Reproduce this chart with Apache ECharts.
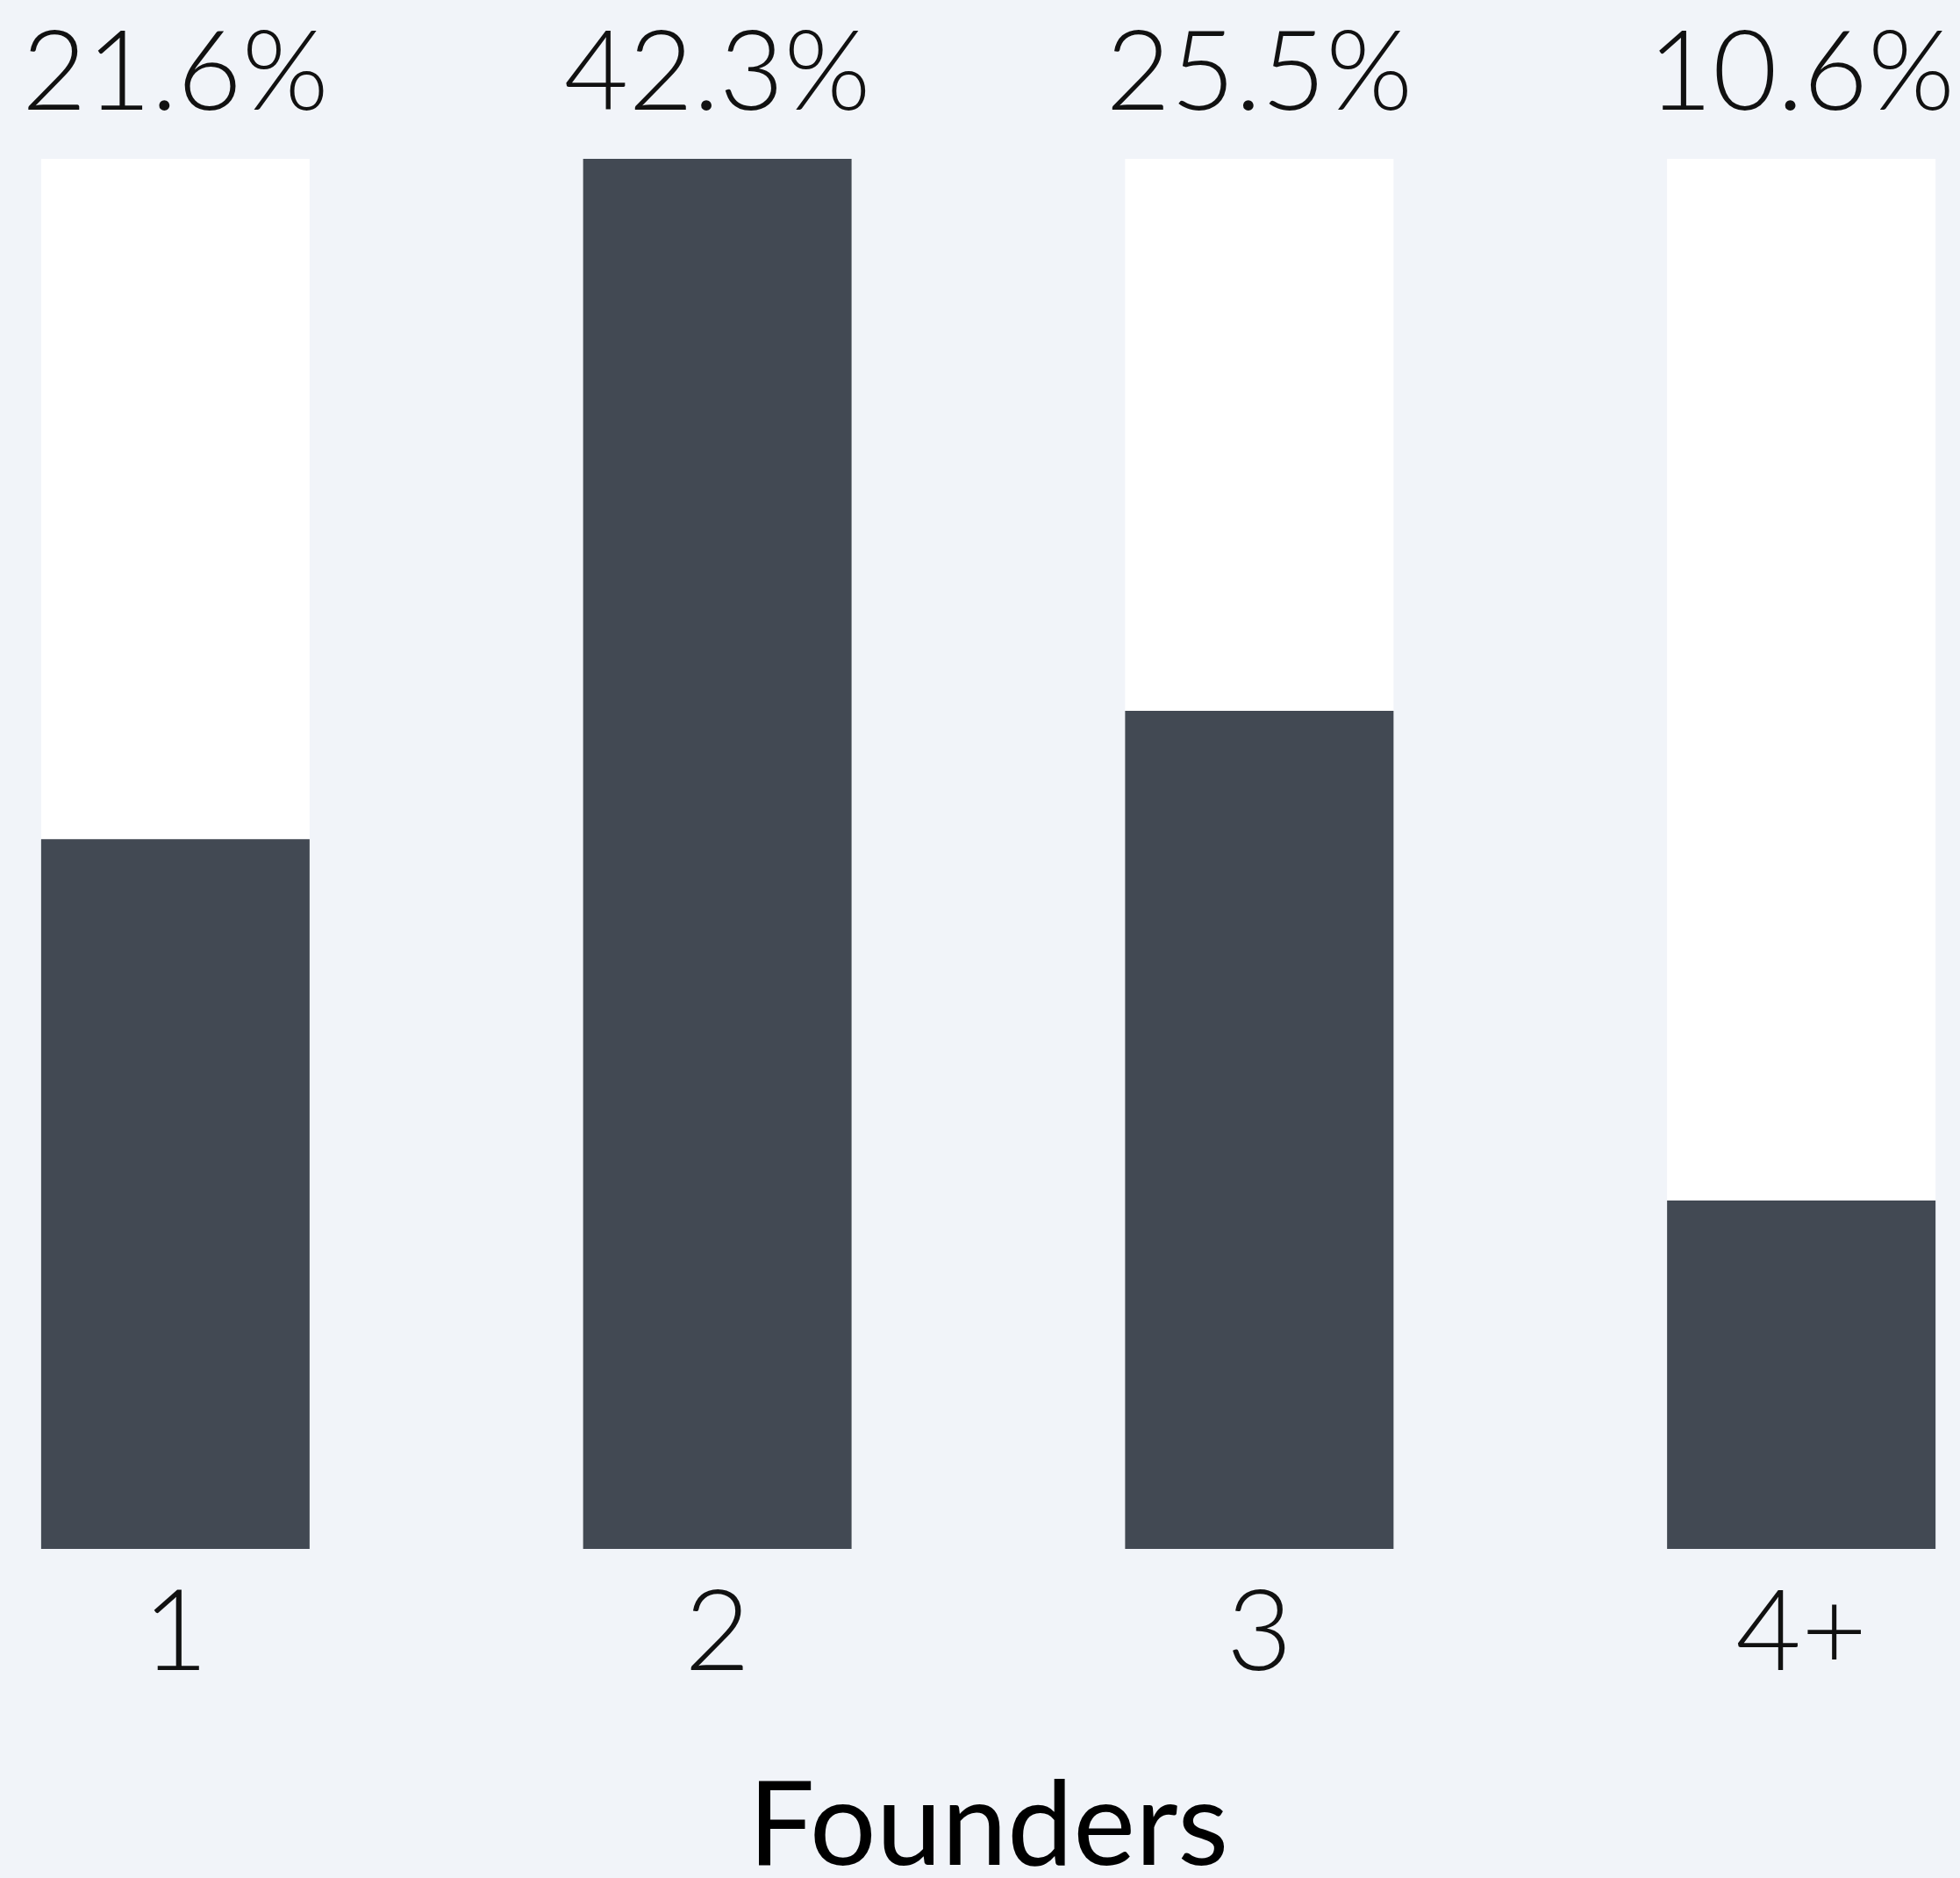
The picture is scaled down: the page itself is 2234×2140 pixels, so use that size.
<!DOCTYPE html>
<html>
<head>
<meta charset="utf-8">
<style>
html,body{margin:0;padding:0;background:#f1f4f9;overflow:hidden;width:2234px;height:2140px;position:relative;}
#c{position:absolute;left:-109px;top:0;width:2471px;height:2140px;}
</style>
<script src="https://cdn.jsdelivr.net/npm/echarts@6/dist/echarts.min.js"></script>
</head>
<body>
<div id="c"></div>
<script>
const categories = ['1', '2', '3', '4+'];
const values = [21.6, 42.3, 25.5, 10.6];
const axisName = 'Founders';

const pctLabels = values.map(v => v.toFixed(1) + '%');
const chart = echarts.init(document.getElementById('c'), null, {renderer: 'canvas'});
chart.setOption({
  backgroundColor: '#f1f4f9',
  animation: false,
  grid: {left: 0, right: 0, top: 181, bottom: 375, containLabel: false, outerBoundsMode: 'none'},
  xAxis: [{
    type: 'category',
    data: categories,
    position: 'bottom',
    axisLine: {show: false},
    axisTick: {show: false},
    axisLabel: {fontFamily: 'Lato', fontWeight: 300, fontSize: 129, color: '#111', margin: 32},
    name: axisName,
    nameLocation: 'middle',
    nameGap: 250,
    nameTextStyle: {fontFamily: 'Lato', fontWeight: 'normal', fontSize: 134, color: '#000'}
  }, {
    type: 'category',
    data: pctLabels,
    position: 'top',
    axisLine: {show: false},
    axisTick: {show: false},
    axisLabel: {fontFamily: 'Lato', fontWeight: 300, fontSize: 127, color: '#111', margin: 33}
  }],
  yAxis: {type: 'value', min: 0, max: Math.max(...values), show: false, splitLine: {show: false}},
  series: [{
    type: 'bar',
    data: values,
    barWidth: 306,
    showBackground: true,
    backgroundStyle: {color: '#ffffff'},
    itemStyle: {color: '#424953'}
  }]
});
</script>
</body>
</html>
